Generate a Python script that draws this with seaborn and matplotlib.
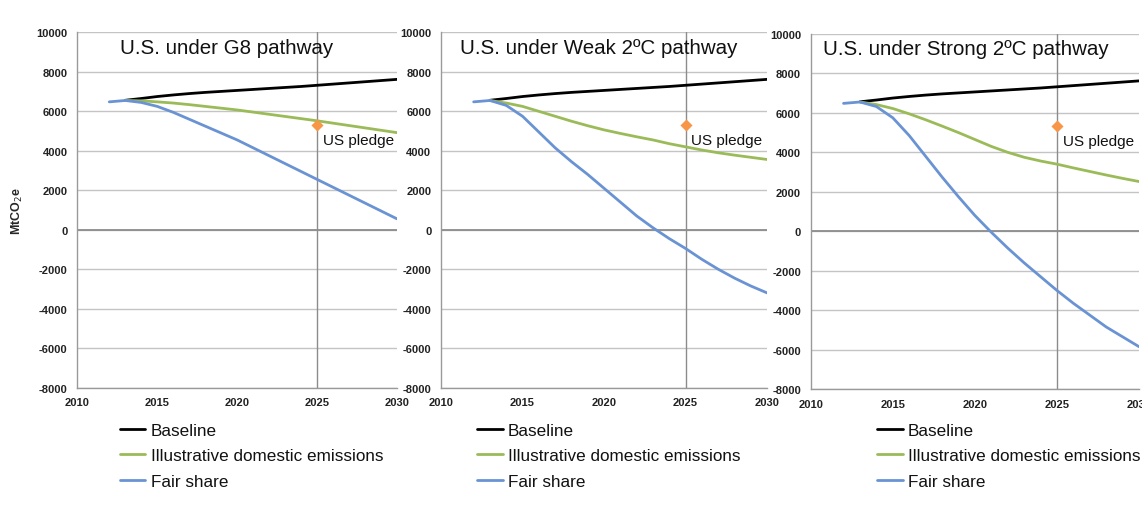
import matplotlib
matplotlib.use("Agg")
import matplotlib.pyplot as plt
import seaborn as sns
import numpy as np
import pandas as pd

# ---- data (MtCO2e) ----
years = list(range(2012, 2031))
panel_titles = ["U.S. under G8 pathway",
                "U.S. under Weak 2ºC pathway",
                "U.S. under Strong 2ºC pathway"]
series_names = ["Baseline", "Illustrative domestic emissions", "Fair share"]

baseline = [np.nan, 6560, 6650, 6750, 6830, 6900, 6960, 7010, 7060, 7110,
            7160, 7210, 7260, 7320, 7380, 7440, 7500, 7560, 7620]

g8_domestic = [np.nan, 6550, 6530, 6480, 6420, 6340, 6250, 6160, 6070, 5960,
               5850, 5740, 5630, 5520, 5400, 5280, 5160, 5040, 4920]
g8_fair = [6480, 6550, 6450, 6250, 5950, 5600, 5250, 4900, 4550, 4150,
           3750, 3350, 2950, 2550, 2150, 1750, 1350, 950, 550]

weak_domestic = [np.nan, 6550, 6420, 6250, 6000, 5750, 5500, 5270, 5060, 4880,
                 4710, 4550, 4360, 4200, 4040, 3900, 3780, 3670, 3560]
weak_fair = [6480, 6550, 6300, 5750, 4950, 4150, 3450, 2800, 2100, 1400,
             700, 100, -450, -950, -1500, -2000, -2450, -2850, -3200]

strong_domestic = [np.nan, 6550, 6420, 6220, 5950, 5650, 5330, 5000, 4650, 4300,
                   4000, 3750, 3560, 3400, 3210, 3030, 2850, 2680, 2520]
strong_fair = [6480, 6550, 6320, 5750, 4850, 3800, 2750, 1750, 800, -50,
               -850, -1600, -2300, -3000, -3650, -4250, -4850, -5350, -5850]

pledge_year = 2025
pledge_values = [5300, 5300, 5350]

x_ticks = [2010, 2015, 2020, 2025, 2030]
y_ticks = list(range(-8000, 10001, 2000))

colors = {"Baseline": "#000000",
          "Illustrative domestic emissions": "#9BBB59",
          "Fair share": "#6A93D4"}

panels = [(g8_domestic, g8_fair), (weak_domestic, weak_fair),
          (strong_domestic, strong_fair)]

sns.set_theme(style="white")
plt.rcParams["font.family"] = ["Liberation Sans", "DejaVu Sans"]
plt.rcParams["axes.unicode_minus"] = False

fig = plt.figure(figsize=(11.42, 5.06), dpi=100)
ax_rects = [[0.0677, 0.232, 0.280, 0.702],
            [0.3862, 0.232, 0.2855, 0.702],
            [0.7099, 0.229, 0.2875, 0.702]]
title_x = [0.133, 0.058, 0.037]
legend_xy = [(0.133, -0.1), (0.11, -0.1), (0.202, -0.096)]

for i, (domestic, fair) in enumerate(panels):
    ax = fig.add_axes(ax_rects[i])
    df = pd.DataFrame({
        "year": years * 3,
        "value": baseline + domestic + fair,
        "series": sum([[n] * len(years) for n in series_names], []),
    }).dropna()

    ax.axhline(0, color="#8c8c8c", linewidth=1.3, zorder=1)
    ax.axvline(pledge_year, color="#8c8c8c", linewidth=1.0, zorder=1)

    sns.lineplot(data=df, x="year", y="value", hue="series",
                 hue_order=series_names, palette=colors,
                 linewidth=2.0, ax=ax, legend=True, zorder=3)

    ax.scatter([pledge_year], [pledge_values[i]], marker="D", s=38,
               color="#F79646", zorder=4, linewidths=0)
    ax.annotate("US pledge", (pledge_year, pledge_values[i]),
                xytext=(4, -6), textcoords="offset points",
                ha="left", va="top", fontsize=11, color="#111111")

    ax.set_xlim(2010, 2030)
    ax.set_ylim(-8000, 10000)
    ax.set_xticks(x_ticks)
    ax.set_yticks(y_ticks)
    ax.yaxis.grid(True, color="#c4c4c4", linewidth=1.0)
    ax.xaxis.grid(False)
    ax.set_axisbelow(True)

    for side in ["top", "right"]:
        ax.spines[side].set_visible(False)
    for side in ["left", "bottom"]:
        ax.spines[side].set_color("#9a9a9a")
        ax.spines[side].set_linewidth(1.0)

    ax.tick_params(axis="both", which="major", length=4, width=1,
                   color="#9a9a9a", direction="out",
                   labelsize=8, labelcolor="#222222", pad=3)
    for lab in ax.get_xticklabels() + ax.get_yticklabels():
        lab.set_fontweight("bold")

    ax.set_xlabel("")
    ax.set_ylabel("")
    if i == 0:
        ax.set_ylabel("MtCO$_2$e", fontsize=9, fontweight="bold", labelpad=8)

    ax.text(title_x[i], 0.985, panel_titles[i], transform=ax.transAxes,
            ha="left", va="top", fontsize=14.8, color="#111111")

    leg = ax.legend(loc="upper left", bbox_to_anchor=legend_xy[i],
                    frameon=False, fontsize=12.3, handlelength=1.5,
                    handletextpad=0.3, labelspacing=0.6, borderaxespad=0,
                    borderpad=0)
    for line in leg.get_lines():
        line.set_linewidth(2.0)
    for t in leg.get_texts():
        t.set_color("#111111")

fig.savefig("out.png", dpi=100, facecolor="white")
